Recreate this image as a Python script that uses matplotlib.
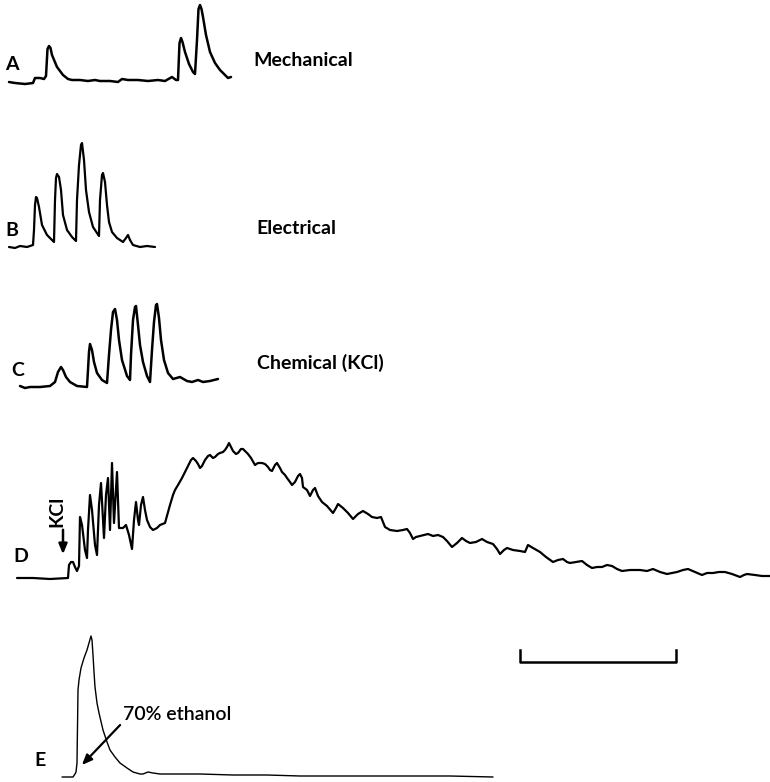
import numpy as np
import matplotlib
matplotlib.use("Agg")
import matplotlib.pyplot as plt

# Trazos: tiempo (posicion horizontal, px) y amplitud sobre la linea base (px)
a_t = [9, 15, 25, 33, 35, 40, 44, 46, 47.5, 49, 50.5, 52, 57, 63, 68, 72, 80, 88, 95, 100, 110,
       118, 122, 128, 138, 148, 158, 165, 172, 176, 178, 179.5, 181, 182.5, 185, 189, 193, 195,
       197, 198.5, 200, 201.5, 203, 206, 210, 215, 220, 225, 228, 231]
a_v = [1, 0, -1, 0, 5, 5, 4, 7, 34, 37, 35, 28, 16, 8, 4, 3, 3, 2, 3, 2, 2,
       1, 4, 3, 3, 2, 3, 2, 6, 3, 3, 40, 45, 41, 31, 19, 11, 9,
       43, 74, 78, 74, 66, 48, 31, 20, 13, 8, 5, 6]

b_t = [9, 15, 20, 27, 33, 34, 35, 36, 37, 39, 42, 47, 52, 54, 55, 56, 57, 59, 61, 63, 67,
       72, 76, 77, 79, 81, 82, 84, 86, 89, 93, 97, 99, 100, 102, 103, 105, 107, 109, 112,
       117, 123, 126, 128, 130, 133, 140, 147, 155]
b_v = [0, -1, 1, 0, 2, 17, 42, 50, 49, 40, 22, 12, 7, 5, 47, 69, 73, 70, 57, 32, 17,
       10, 6, 47, 82, 102, 104, 87, 57, 35, 20, 14, 11, 47, 72, 74, 65, 42, 25, 15,
       9, 5, 9, 12, 7, 2, 0, 1, 0]

c_t = [20, 25, 30, 40, 50, 55, 58, 61, 63, 66, 70, 77, 87, 88, 89, 90, 92, 94, 97, 102,
       107, 109, 111, 113, 115, 117, 119, 122, 127, 130, 131, 133, 135, 136, 138, 140, 143,
       147, 150, 152, 154, 156, 157, 159, 161, 164, 168, 173, 180, 187, 192, 198, 203, 210, 218]
c_v = [1, -1, 0, 0, 1, 5, 15, 20, 17, 10, 5, 1, 0, 17, 35, 43, 37, 25, 14, 7,
       4, 32, 57, 75, 78, 67, 47, 27, 11, 7, 32, 67, 80, 81, 62, 42, 25,
       11, 5, 37, 65, 82, 83, 69, 47, 27, 14, 8, 10, 6, 5, 7, 5, 6, 8]

d_t = [17, 33, 50, 68, 69, 71, 73, 75, 77, 79, 80, 82, 85, 87, 88, 90, 92, 95, 97, 99,
       101, 104, 106, 108, 110, 112, 114, 117, 119, 123, 126, 129, 132, 134, 136, 138, 139,
       141, 143, 145, 147, 150, 153, 157, 160, 165, 168, 170, 173, 175, 178, 182, 185, 188,
       191, 193, 196, 198, 200, 202, 205, 208, 210, 213, 215, 218, 220, 223, 225, 227, 229,
       231, 233, 236, 238, 241, 243, 246, 248, 251, 255, 258, 262, 265, 268, 270, 272, 275,
       277, 280, 282, 285, 287, 290, 292, 295, 298, 300, 302, 303, 307, 310, 313, 315, 318,
       322, 327, 333, 336, 338, 343, 348, 353, 358, 363, 368, 372, 377, 381, 385, 390, 397,
       403, 407, 410, 413, 416, 420, 424, 428, 433, 438, 443, 447, 452, 457, 462, 466, 470,
       476, 482, 487, 493, 497, 500, 504, 507, 513, 520, 525, 528, 533, 540, 546, 553, 558,
       563, 567, 570, 576, 582, 587, 592, 597, 602, 607, 612, 617, 622, 630, 640, 647, 653,
       660, 667, 672, 677, 683, 688, 695, 702, 707, 713, 719, 725, 732, 740, 744, 747, 755,
       762, 770]
d_v = [0, 0, -1, 0, 13, 16, 16, 11, 7, 12, 61, 53, 28, 20, 48, 83, 68, 33, 23, 73,
       95, 40, 83, 100, 48, 115, 55, 106, 50, 50, 53, 43, 29, 58, 76, 58, 53,
       73, 81, 68, 58, 51, 48, 50, 53, 55, 66, 73, 83, 88, 93, 100, 106, 112,
       118, 120, 117, 114, 110, 112, 118, 122, 123, 120, 121, 124, 125, 126, 128, 131, 135,
       131, 127, 124, 125, 129, 129, 126, 124, 120, 113, 115, 115, 114, 111, 108, 107, 113,
       115, 110, 106, 103, 100, 96, 93, 96, 102, 104, 100, 91, 88, 82, 88, 90, 82,
       76, 72, 65, 70, 74, 70, 65, 59, 64, 67, 64, 61, 60, 61, 51, 48, 47,
       48, 49, 45, 39, 41, 42, 43, 44, 42, 43, 41, 37, 31, 35, 40, 37, 35,
       36, 39, 36, 34, 29, 24, 28, 30, 28, 27, 26, 33, 30, 26, 21, 16, 18,
       19, 16, 15, 16, 17, 13, 10, 11, 11, 13, 12, 9, 7, 8, 8, 7, 9,
       6, 4, 5, 6, 8, 9, 6, 3, 5, 5, 6, 6, 4, 1, 3, 4, 3,
       2, 2]

e_t = [62, 70, 73, 75, 76, 77, 77.3, 77.6, 78, 79, 81, 84, 87, 89, 91, 92, 93, 94, 95, 97,
       99, 103, 107, 110, 115, 120, 127, 133, 140, 143, 148, 153, 160, 167, 200, 233, 267,
       300, 333, 367, 400, 450, 493]
e_v = [0, 0, 0, 3, 5, 14, 37, 57, 87, 97, 109, 119, 127, 134, 141, 137, 122, 105, 90, 74,
       64, 47, 35, 27, 20, 14, 9, 5, 3, 3, 5, 4, 3, 3, 3, 2, 2,
       1, 1, 1, 1, 1, 0]

H = 782
fig = plt.figure(figsize=(7.7, 7.82), dpi=100)
ax = fig.add_axes([0, 0, 1, 1])
ax.set_xlim(0, 770)
ax.set_ylim(0, H)
ax.axis("off")

fuente = dict(family="Lato", weight="bold", fontsize=14, color="black")

# lineas base de cada registro (px desde arriba)
trazos = [(a_t, a_v, 83, 1.8), (b_t, b_v, 247, 1.6), (c_t, c_v, 387, 1.8),
          (d_t, d_v, 578, 1.6), (e_t, e_v, 777, 1.0)]
for t, v, base, lw in trazos:
    ax.plot(t, H - base + np.array(v), color="black", lw=lw,
            solid_joinstyle="round", solid_capstyle="round")

# letras de los paneles
for letra, x, y in [("A", 12, 64), ("B", 12, 230), ("C", 18, 370), ("D", 21, 557), ("E", 40, 761)]:
    ax.text(x, H - y, letra, ha="center", va="center", **fuente)

ax.text(253, H - 61, "Mechanical", ha="left", va="center", **fuente)
ax.text(256, H - 228, "Electrical", ha="left", va="center", **fuente)
ax.text(257, H - 363, "Chemical (KCl)", ha="left", va="center", **fuente)

# KCl con flecha
ax.text(57, H - 511, "KCl", rotation=90, ha="center", va="center", **fuente)
ax.annotate("", xy=(63, H - 557), xytext=(63, H - 527),
            arrowprops=dict(arrowstyle="-|>,head_length=0.6,head_width=0.25", color="black", lw=1.8))

# etanol
ax.text(123, H - 715, "70% ethanol", ha="left", va="center",
        family="Lato", weight="semibold", fontsize=14, color="black")
ax.annotate("", xy=(80, H - 767), xytext=(122, H - 723),
            arrowprops=dict(arrowstyle="-|>,head_length=0.6,head_width=0.25", color="black", lw=1.6))

# barra de escala
ax.plot([520, 520, 676, 676], [H - 650, H - 662, H - 662, H - 650], color="black", lw=1.8)

fig.savefig("out.png", dpi=100)
